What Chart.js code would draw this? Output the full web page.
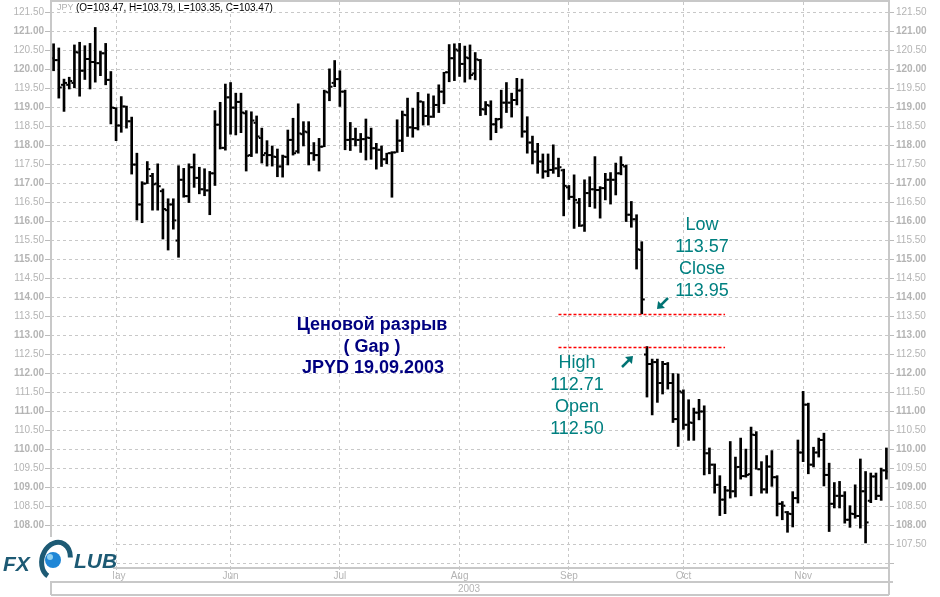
<!DOCTYPE html>
<html>
<head>
<meta charset="utf-8">
<script src="https://cdn.jsdelivr.net/npm/chart.js@4.4.1/dist/chart.umd.min.js"></script>
<style>
  html, body { margin: 0; padding: 0; background: #fff; }
  #wrap { width: 940px; height: 597px; }
</style>
</head>
<body>
<div id="wrap"><canvas id="chart" width="940" height="597"></canvas></div>
<script>
// trading days, Apr 15 - Nov 25 2003 (MM-DD)
const dates = [
  "04-15","04-16","04-17","04-18","04-21","04-22","04-23","04-24","04-25","04-28","04-29","04-30",
  "05-01","05-02","05-05","05-06","05-07","05-08","05-09","05-12","05-13","05-14","05-15","05-16",
  "05-19","05-20","05-21","05-22","05-23","05-26","05-27","05-28","05-29","05-30",
  "06-02","06-03","06-04","06-05","06-06","06-09","06-10","06-11","06-12","06-13","06-16","06-17",
  "06-18","06-19","06-20","06-23","06-24","06-25","06-26","06-27","06-30",
  "07-01","07-02","07-03","07-04","07-07","07-08","07-09","07-10","07-11","07-14","07-15","07-16",
  "07-17","07-18","07-21","07-22","07-23","07-24","07-25","07-28","07-29","07-30","07-31",
  "08-01","08-04","08-05","08-06","08-07","08-08","08-11","08-12","08-13","08-14","08-15","08-18",
  "08-19","08-20","08-21","08-22","08-25","08-26","08-27","08-28","08-29",
  "09-01","09-02","09-03","09-04","09-05","09-08","09-09","09-10","09-11","09-12","09-15","09-16",
  "09-17","09-18","09-19","09-22","09-23","09-24","09-25","09-26","09-29","09-30",
  "10-01","10-02","10-03","10-06","10-07","10-08","10-09","10-10","10-13","10-14","10-15","10-16",
  "10-17","10-20","10-21","10-22","10-23","10-24","10-27","10-28","10-29","10-30","10-31",
  "11-03","11-04","11-05","11-06","11-07","11-10","11-11","11-12","11-13","11-14","11-17","11-18",
  "11-19","11-20","11-21","11-24","11-25"
];

const opens = [
  120.30,120.25,119.60,119.60,119.65,120.45,119.97,120.28,120.20,120.17,120.43,119.73,
  118.99,118.53,119.03,118.64,117.50,116.45,117.00,117.20,117.00,116.80,116.30,116.45,
  115.50,117.10,116.67,117.43,117.15,116.85,116.82,117.27,118.55,117.94,
  119.27,119.00,119.15,118.85,117.75,118.60,118.20,117.80,117.75,117.70,117.45,117.70,
  118.15,117.85,118.30,118.35,117.80,117.75,117.97,119.40,119.65,
  119.75,119.42,118.15,118.17,118.15,118.17,118.20,117.93,117.89,117.64,117.80,117.82,
  118.13,118.80,118.48,118.46,119.16,118.78,118.76,119.07,119.42,119.93,120.30,
  120.50,120.15,120.30,119.90,120.25,118.95,119.05,118.56,118.70,119.13,119.13,119.20,
  119.45,118.37,118.08,117.84,117.58,117.32,117.36,117.40,117.35,
  116.90,116.65,116.50,115.90,116.75,116.85,116.83,116.88,117.10,117.10,117.27,117.45,
  116.18,116.06,115.25,112.50,112.25,112.30,111.75,112.25,111.75,110.80,
  111.50,110.65,110.70,110.97,111.00,109.90,109.60,109.07,108.68,108.92,108.90,109.54,
  109.30,109.35,110.38,109.48,108.95,109.55,109.27,108.57,108.35,108.30,108.72,
  109.92,111.18,109.60,109.92,110.25,109.33,108.57,108.78,108.78,108.15,108.30,108.25,
  108.90,108.65,109.29,108.78,109.45
];
const highs = [
  120.68,120.57,119.75,119.80,120.65,120.72,120.63,120.69,121.11,120.48,120.69,119.95,
  119.00,119.29,119.04,118.75,117.80,117.05,117.58,117.27,117.52,116.86,116.60,116.60,
  117.47,117.40,117.52,117.78,117.43,117.39,117.32,118.92,119.14,119.62,
  119.66,119.38,119.38,118.92,118.89,118.78,118.46,118.13,117.99,117.91,117.75,118.41,
  118.72,119.10,118.63,118.63,118.08,118.19,119.46,120.02,120.24,
  119.97,119.46,118.61,118.46,118.32,118.70,118.46,118.06,117.99,117.80,117.84,118.68,
  118.91,119.25,118.98,119.40,119.16,119.36,119.31,119.60,119.93,120.66,120.68,
  120.69,120.62,120.65,120.45,120.27,119.16,119.18,118.72,119.46,119.66,119.38,119.77,
  119.75,118.76,118.25,118.06,117.78,117.78,118.02,117.67,117.38,
  116.95,117.23,116.61,117.10,117.18,117.71,116.92,117.27,117.29,117.54,117.71,117.49,
  116.53,116.18,115.47,112.71,112.38,112.38,112.32,112.29,112.00,111.99,
  111.57,111.31,111.09,111.32,111.15,110.04,109.62,109.31,109.03,110.21,109.80,110.30,
  110.01,110.59,110.47,109.68,109.84,109.97,109.31,108.63,108.37,108.89,110.25,
  111.53,111.22,110.06,110.30,110.43,109.64,109.13,109.16,108.89,108.52,109.07,109.75,
  109.42,109.38,109.38,109.51,110.04
];
const lows = [
  119.97,119.25,118.90,119.49,119.52,119.30,119.74,119.49,119.67,119.84,119.60,118.57,
  118.13,118.35,118.46,117.25,116.04,115.97,117.00,116.30,116.30,115.54,115.25,115.80,
  115.06,116.64,116.50,116.90,116.73,116.68,116.18,116.95,117.91,117.88,
  118.30,118.28,118.34,117.33,117.71,117.80,117.54,117.46,117.46,117.18,117.17,117.49,
  117.75,117.80,117.99,117.49,117.61,117.33,117.97,119.18,119.55,
  119.03,117.89,117.87,117.99,117.82,117.62,117.64,117.38,117.45,117.52,116.64,117.82,
  117.84,118.24,118.22,118.41,118.54,118.54,118.74,118.87,119.10,119.68,119.71,
  119.82,119.67,119.75,119.73,118.79,118.81,118.15,118.34,118.46,118.87,118.75,119.07,
  118.22,117.80,117.52,117.27,117.14,117.18,117.27,117.18,116.15,
  116.58,115.82,115.87,115.74,116.39,116.35,116.09,116.57,116.46,116.70,117.23,116.00,
  115.85,114.75,113.57,111.38,110.91,111.24,111.46,111.59,110.71,110.08,
  110.53,110.24,110.24,110.78,109.33,109.36,108.85,108.26,108.31,108.72,108.75,109.22,
  109.27,108.78,109.48,108.85,108.85,109.03,108.25,108.15,107.82,107.96,108.59,
  109.68,109.36,109.54,109.80,109.04,107.84,108.46,108.46,108.06,107.95,108.19,107.93,
  107.54,108.60,108.68,108.66,109.22
];
const closes = [
  120.25,119.53,119.65,119.70,120.46,119.97,120.28,120.20,120.17,120.43,119.73,119.00,
  118.53,119.03,118.64,117.50,116.45,117.00,117.38,116.98,116.93,116.33,116.45,116.03,
  117.10,116.67,117.43,117.15,116.85,116.82,117.27,118.55,117.94,119.27,
  119.00,119.15,118.87,117.73,118.66,118.24,117.75,117.75,117.71,117.45,117.71,118.15,
  117.80,118.32,118.37,117.80,117.75,117.97,119.42,119.55,119.75,
  119.42,118.15,118.17,118.15,118.17,118.21,117.93,117.89,117.64,117.80,117.82,118.13,
  118.81,118.48,118.46,119.16,118.78,118.76,119.07,119.42,119.93,120.30,120.53,
  120.15,120.32,119.86,120.27,118.96,119.07,118.56,118.69,119.13,119.13,119.20,119.45,
  118.37,118.08,117.84,117.58,117.32,117.36,117.40,117.43,116.94,
  116.65,116.57,115.89,116.75,116.85,116.83,116.88,117.10,117.10,117.27,117.49,116.18,
  116.06,115.27,113.95,112.25,112.30,111.75,112.25,111.75,110.80,111.53,
  110.65,110.71,110.97,111.00,109.90,109.60,109.07,108.68,108.92,108.90,109.54,109.30,
  109.33,110.39,109.48,108.95,109.55,109.27,108.57,108.52,108.31,108.72,109.92,
  111.18,109.60,109.92,110.25,109.33,108.57,108.78,108.78,108.15,108.31,108.25,108.90,
  108.08,109.29,108.78,109.45,109.42
];

const yTicks = [
  107.00,107.50,108.00,108.50,109.00,109.50,110.00,110.50,111.00,111.50,112.00,112.50,
  113.00,113.50,114.00,114.50,115.00,115.50,116.00,116.50,117.00,117.50,118.00,118.50,
  119.00,119.50,120.00,120.50,121.00,121.50
];
const monthNames = ["Jan","Feb","Mar","Apr","May","Jun","Jul","Aug","Sep","Oct","Nov","Dec"];

// gap of 19.09.2003
const gapLow = 113.57;
const gapHigh = 112.71;

const FONT = '"Liberation Sans", Arial, sans-serif';
const GRID = '#c8c8c8';
const LABEL = '#b4b4b4';

function isMonthStart(i) {
  return i > 0 && dates[i] && dates[i].slice(0, 2) !== dates[i - 1].slice(0, 2);
}

const ohlcTicks = {
  id: 'ohlcTicks',
  afterDatasetsDraw(chart) {
    const { ctx, scales: { x, y } } = chart;
    ctx.save();
    ctx.fillStyle = '#000';
    for (let i = 0; i < dates.length; i++) {
      const px = x.getPixelForValue(i);
      ctx.fillRect(px - 3, y.getPixelForValue(opens[i]) - 1, 2, 2);
      ctx.fillRect(px + 1, y.getPixelForValue(closes[i]) - 1, 2, 2);
    }
    ctx.restore();
  }
};

const decorations = {
  id: 'decorations',
  afterDraw(chart) {
    const { ctx, chartArea: a, scales: { x, y } } = chart;
    ctx.save();

    // frame and the date bands
    ctx.strokeStyle = GRID;
    ctx.lineWidth = 2;
    ctx.strokeRect(a.left, a.top - 1, a.right - a.left, a.bottom - a.top + 1);
    ctx.beginPath();
    ctx.moveTo(a.left, a.bottom); ctx.lineTo(a.left, 595);
    ctx.moveTo(a.right, a.bottom); ctx.lineTo(a.right, 595);
    ctx.moveTo(a.left, 582); ctx.lineTo(a.right + 4, 582);
    ctx.moveTo(a.left, 595); ctx.lineTo(a.right, 595);
    ctx.stroke();

    ctx.font = '10px ' + FONT;
    ctx.fillStyle = LABEL;
    ctx.textAlign = 'center';
    ctx.textBaseline = 'middle';
    ctx.fillText('2003', 469, 589);

    // header
    ctx.textAlign = 'left';
    ctx.font = '9px ' + FONT;
    ctx.fillStyle = '#b0b0b0';
    ctx.fillText('JPY', 57, 8);
    ctx.font = '10px ' + FONT;
    ctx.fillStyle = '#000';
    ctx.fillText('(O=103.47, H=103.79, L=103.35, C=103.47)', 76, 8);

    // gap lines
    ctx.strokeStyle = '#ff0000';
    ctx.lineWidth = 1.4;
    ctx.setLineDash([3, 2]);
    [gapLow, gapHigh].forEach(v => {
      const py = Math.round(y.getPixelForValue(v)) + 0.5;
      ctx.beginPath();
      ctx.moveTo(x.getPixelForValue(97), py);
      ctx.lineTo(x.getPixelForValue(129), py);
      ctx.stroke();
    });
    ctx.setLineDash([]);

    // labels
    ctx.textAlign = 'center';
    ctx.fillStyle = '#008080';
    ctx.font = '18px ' + FONT;
    ['Low', '113.57', 'Close', '113.95'].forEach((t, k) => ctx.fillText(t, 702, 225 + k * 22));
    ['High', '112.71', 'Open', '112.50'].forEach((t, k) => ctx.fillText(t, 577, 363 + k * 22));

    ctx.fillStyle = '#000080';
    ctx.font = 'bold 18px ' + FONT;
    ctx.fillText('Ценовой разрыв', 372, 325);
    ctx.fillText('( Gap )', 372, 347);
    ctx.fillText('JPYD 19.09.2003', 373, 368);

    // arrows
    function arrow(x1, y1, x2, y2) {
      const ang = Math.atan2(y2 - y1, x2 - x1);
      ctx.strokeStyle = '#007373';
      ctx.fillStyle = '#007373';
      ctx.lineWidth = 2.5;
      ctx.beginPath();
      ctx.moveTo(x1, y1);
      ctx.lineTo(x2 - 4 * Math.cos(ang), y2 - 4 * Math.sin(ang));
      ctx.stroke();
      ctx.beginPath();
      ctx.moveTo(x2, y2);
      ctx.lineTo(x2 - 8 * Math.cos(ang - 0.65), y2 - 8 * Math.sin(ang - 0.65));
      ctx.lineTo(x2 - 8 * Math.cos(ang + 0.65), y2 - 8 * Math.sin(ang + 0.65));
      ctx.closePath();
      ctx.fill();
    }
    arrow(668, 298, 657, 309);
    arrow(622, 367, 633, 356);

    // logo
    ctx.fillStyle = '#fff';
    ctx.fillRect(0, 537, 113, 44);
    ctx.fillStyle = '#1d5a74';
    ctx.font = 'italic bold 21px ' + FONT;
    ctx.textAlign = 'left';
    ctx.textBaseline = 'alphabetic';
    ctx.fillText('FX', 3, 571);
    ctx.fillText('LUB', 74, 568);
    ctx.beginPath();
    ctx.fillStyle = '#1e86d6';
    ctx.arc(53, 560, 8, 0, Math.PI * 2);
    ctx.fill();
    ctx.fillStyle = '#8fd0f0';
    ctx.beginPath();
    ctx.arc(50, 557, 3, 0, Math.PI * 2);
    ctx.fill();
    ctx.strokeStyle = '#1d5a74';
    ctx.lineWidth = 5;
    ctx.beginPath();
    ctx.ellipse(56, 560, 14, 18, 0.3, 1.8, 5.9);
    ctx.stroke();

    ctx.restore();
  }
};

function isWhole(c) {
  return !!(c && c.tick && Number.isInteger(c.tick.value));
}

function yAxis(pos) {
  return {
    position: pos,
    min: 106.88,
    max: 121.78,
    afterBuildTicks: s => { s.ticks = yTicks.map(v => ({ value: v })); },
    afterFit: s => { s.width = 51; s.paddingTop = 0; s.paddingBottom = 0; },
    grid: {
      drawOnChartArea: pos === 'left',
      color: GRID,
      lineWidth: 1,
      tickLength: pos === 'left' ? 6 : 5,
      tickColor: '#bbbbbb'
    },
    border: { display: false, dash: [3, 3] },
    ticks: {
      padding: pos === 'left' ? 1 : 2,
      color: LABEL,
      font: c => ({ family: FONT, size: 10, weight: isWhole(c) ? 'bold' : 'normal' }),
      callback: v => (v === 107 ? '' : Number(v).toFixed(2))
    }
  };
}

new Chart(document.getElementById('chart'), {
  type: 'bar',
  data: {
    labels: dates,
    datasets: [{
      data: dates.map((d, i) => [lows[i], highs[i]]),
      backgroundColor: '#000',
      borderWidth: 0,
      barThickness: 2
    }]
  },
  options: {
    responsive: false,
    animation: false,
    devicePixelRatio: 1,
    layout: { padding: { top: 2, left: 0, right: 0, bottom: 0 } },
    plugins: { legend: { display: false }, tooltip: { enabled: false } },
    scales: {
      x: {
        offset: true,
        afterFit: s => { s.height = 29; s.paddingLeft = 0; s.paddingRight = 0; },
        grid: {
          offset: false,
          color: c => (c && isMonthStart(c.index) ? GRID : 'rgba(0,0,0,0)'),
          tickColor: c => (c && isMonthStart(c.index) ? GRID : 'rgba(0,0,0,0)'),
          tickLength: 12,
          tickBorderDash: [2, 2]
        },
        border: { display: false, dash: [3, 3] },
        ticks: {
          autoSkip: false,
          maxRotation: 0,
          padding: -10,
          color: LABEL,
          font: { family: FONT, size: 10 },
          callback: (v, i) => (isMonthStart(i) ? monthNames[parseInt(dates[i].slice(0, 2), 10) - 1] : '')
        }
      },
      y: yAxis('left'),
      y2: yAxis('right')
    }
  },
  plugins: [ohlcTicks, decorations]
});
</script>
</body>
</html>
